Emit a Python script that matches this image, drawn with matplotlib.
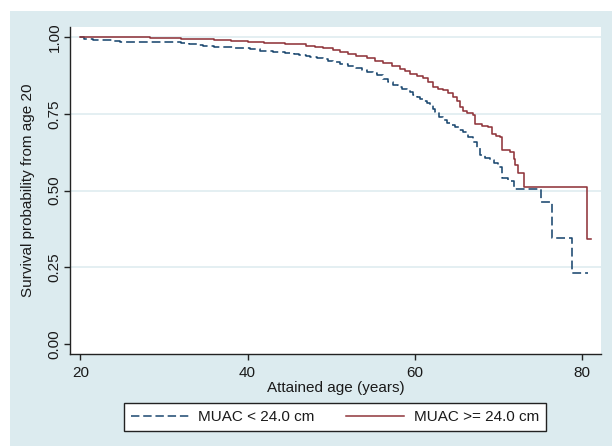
import matplotlib
matplotlib.use("Agg")
import matplotlib.pyplot as plt
from matplotlib.patches import Rectangle
from matplotlib.lines import Line2D

# ---- data ----
age_low = [20.0, 20.5, 21.5, 22.7, 23.8, 24.7, 30.7, 32.0, 33.0, 34.0, 34.7, 36.0,
           37.0, 38.5, 40.3, 41.5, 43.0, 44.5, 45.5, 46.2, 47.0, 47.5, 48.3, 49.0,
           49.6, 50.2, 51.0, 52.0, 53.0, 53.7, 54.3, 55.0, 55.5, 56.2, 56.8, 57.4,
           58.0, 58.5, 59.0, 59.4, 59.8, 60.2, 60.6, 61.0, 61.4, 61.8, 62.1, 62.4,
           62.9, 63.4, 63.8, 64.3, 64.8, 65.3, 65.7, 66.3, 66.9, 67.4, 67.8, 68.4,
           69.0, 69.5, 69.9, 70.4, 71.1, 71.8, 75.1, 76.4, 78.8, 80.7]
surv_low = [1.000, 0.992, 0.990, 0.989, 0.986, 0.983, 0.983, 0.981, 0.978, 0.975, 0.972, 0.969,
            0.966, 0.963, 0.960, 0.955, 0.950, 0.947, 0.944, 0.941, 0.938, 0.936, 0.931, 0.927,
            0.923, 0.919, 0.912, 0.905, 0.899, 0.893, 0.886, 0.882, 0.877, 0.864, 0.854, 0.843,
            0.838, 0.832, 0.826, 0.820, 0.812, 0.805, 0.799, 0.792, 0.785, 0.778, 0.767, 0.756,
            0.740, 0.730, 0.720, 0.713, 0.706, 0.698, 0.689, 0.674, 0.659, 0.640, 0.615, 0.607,
            0.599, 0.588, 0.575, 0.540, 0.530, 0.506, 0.461, 0.344, 0.232, 0.232]

age_high = [20.0, 28.3, 30.0, 32.0, 34.0, 36.0, 38.0, 40.0, 42.0, 43.0, 44.5, 46.2,
            47.0, 48.0, 49.0, 50.2, 51.0, 52.0, 53.0, 54.3, 55.2, 56.2, 57.2, 58.2,
            58.8, 59.4, 60.2, 61.0, 61.6, 62.2, 62.8, 63.4, 64.0, 64.5, 65.0, 65.4,
            65.8, 66.2, 67.0, 67.2, 68.0, 68.7, 69.2, 69.7, 70.2, 70.4, 71.4, 71.8,
            72.0, 72.3, 73.0, 80.6, 81.1]
surv_high = [1.000, 0.998, 0.997, 0.995, 0.993, 0.990, 0.987, 0.984, 0.982, 0.980, 0.978, 0.976,
             0.972, 0.968, 0.963, 0.957, 0.952, 0.946, 0.939, 0.930, 0.922, 0.914, 0.905, 0.897,
             0.888, 0.879, 0.874, 0.868, 0.852, 0.838, 0.832, 0.827, 0.816, 0.805, 0.790, 0.772,
             0.760, 0.751, 0.745, 0.715, 0.710, 0.706, 0.684, 0.678, 0.673, 0.632, 0.626, 0.604,
             0.583, 0.557, 0.510, 0.341, 0.341]

labels = ["MUAC < 24.0 cm", "MUAC >= 24.0 cm"]
xticks = [20, 40, 60, 80]
yticks = [0.0, 0.25, 0.5, 0.75, 1.0]
yticklabels = ["0.00", "0.25", "0.50", "0.75", "1.00"]
xlabel = "Attained age (years)"
ylabel = "Survival probability from age 20"

# ---- style ----
W, H = 612, 446
BG = "#dcebef"
GRID = "#dfecf0"
BLUE = "#1a476f"
RED = "#90353b"
plt.rcParams["font.family"] = ["Liberation Sans", "DejaVu Sans"]
FS = 11

fig = plt.figure(figsize=(W / 100, H / 100), dpi=100, facecolor="white")
fig.patches.append(Rectangle((10 / W, 0), (W - 10) / W, (H - 11) / H,
                             transform=fig.transFigure, facecolor=BG,
                             edgecolor="none", zorder=-10))

ax = fig.add_axes([70 / W, (H - 354) / H, (601 - 70) / W, (354 - 27) / H])
ax.set_zorder(2)
ax.set_facecolor("white")
ax.set_xlim(18.77, 82.24)
ax.set_ylim(-0.0326, 1.0326)

for y in yticks[1:]:
    ax.axhline(y, color=GRID, lw=1.2, zorder=1)

ax.step(age_low, surv_low, where="post", color=BLUE, lw=1.15,
        dashes=(5.5, 2.5), zorder=3)
ax.step(age_high, surv_high, where="post", color=RED, lw=1.15, zorder=3)

for s in ["top", "right"]:
    ax.spines[s].set_visible(False)
for s in ["left", "bottom"]:
    ax.spines[s].set_linewidth(1.0)
    ax.spines[s].set_color("#222222")

ax.set_xticks(xticks)
ax.set_xticklabels([str(x) for x in xticks])
ax.set_yticks(yticks)
ax.set_yticklabels(yticklabels, rotation=90, va="center")
ax.tick_params(axis="both", direction="out", length=4, width=1.0,
               color="#222222", labelsize=FS, labelcolor="#1a1a1a")
ax.tick_params(axis="x", pad=4.5)
ax.tick_params(axis="y", pad=2)

fig.text(335.5 / W, (H - 391.7) / H, xlabel, ha="center", va="baseline",
         fontsize=FS, color="#1a1a1a", zorder=5)
fig.text(28 / W, (H - 190.5) / H, ylabel, ha="center", va="center",
         rotation=90, fontsize=FS, color="#1a1a1a", zorder=5)

handles = [Line2D([], [], color=BLUE, lw=1.1, dashes=(5.5, 2.5)),
           Line2D([], [], color=RED, lw=1.1)]
leg = fig.legend(handles, labels, ncol=2, mode="expand", loc="center",
                 bbox_to_anchor=(124.3 / W, (H - 431.7) / H, (545.7 - 124.3) / W, 29 / H),
                 fontsize=FS, frameon=True, fancybox=False, framealpha=1,
                 edgecolor="#222222", facecolor="white", handlelength=3.8,
                 handletextpad=0.6, borderpad=0.45, borderaxespad=0,
                 columnspacing=1.8)
leg.get_frame().set_linewidth(1.0)
leg.set_zorder(5)
for t in leg.get_texts():
    t.set_color("#1a1a1a")

fig.savefig("out.png", dpi=100, facecolor="white")
